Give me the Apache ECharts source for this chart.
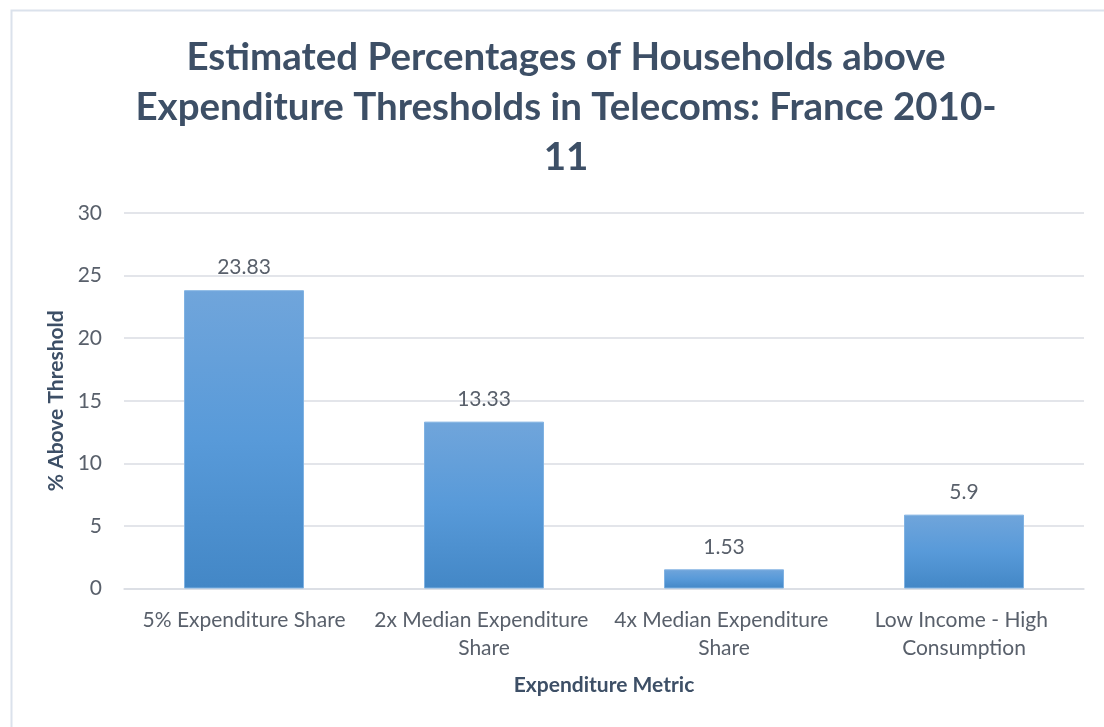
<!DOCTYPE html>
<html>
<head>
<meta charset="utf-8">
<script src="https://cdn.jsdelivr.net/npm/echarts@6/dist/echarts.min.js"></script>
<style>
  html, body { margin: 0; padding: 0; background: #ffffff; }
  #chart { width: 1104px; height: 727px; }
</style>
</head>
<body>
<div id="chart"></div>
<script>
// Expenditure metrics and the share of households above each threshold (%)
const categories = [
  '5% Expenditure Share',
  '2x Median Expenditure Share',
  '4x Median Expenditure Share',
  'Low Income - High Consumption'
];
const values = [23.83, 13.33, 1.53, 5.9];
const yTicks = [0, 5, 10, 15, 20, 25, 30];

const titleText = 'Estimated Percentages of Households above\nExpenditure Thresholds in Telecoms: France 2010-\n11';
const FONT = 'Lato, "Open Sans", sans-serif';
const TEXT = '#59606b';
const DARK = '#3d4f66';

const chart = echarts.init(document.getElementById('chart'), null, { renderer: 'canvas' });

chart.setOption({
  backgroundColor: '#ffffff',
  animation: false,
  textStyle: { fontFamily: FONT },
  graphic: [{
    type: 'rect',
    shape: { x: 11.5, y: 10.5, width: 1200, height: 800 },
    style: { fill: 'none', stroke: '#dbe2ec', lineWidth: 2 },
    silent: true,
    z: -1
  }],
  title: {
    text: titleText,
    left: 561,
    textAlign: 'center',
    top: 28,
    textStyle: {
      fontFamily: FONT,
      fontSize: 38.5,
      fontWeight: 'bold',
      color: DARK,
      lineHeight: 50
    }
  },
  grid: { left: 124, right: 20, top: 213, bottom: 138.5 },
  xAxis: {
    type: 'category',
    data: categories,
    name: 'Expenditure Metric',
    nameLocation: 'middle',
    nameGap: 86,
    nameTextStyle: { fontFamily: FONT, fontSize: 21, fontWeight: 'bold', color: DARK },
    axisLine: { show: true, lineStyle: { color: '#dadde3', width: 1.5 } },
    axisTick: { show: false },
    axisLabel: {
      interval: 0,
      fontFamily: FONT,
      fontSize: 21,
      color: TEXT,
      lineHeight: 28,
      margin: 18,
      width: 232,
      overflow: 'break'
    }
  },
  yAxis: {
    type: 'value',
    min: yTicks[0],
    max: yTicks[yTicks.length - 1],
    interval: yTicks[1] - yTicks[0],
    name: '% Above Threshold',
    nameLocation: 'middle',
    nameRotate: 90,
    nameGap: 55,
    nameTextStyle: { fontFamily: FONT, fontSize: 21, fontWeight: 'bold', color: DARK },
    axisLine: { show: false },
    axisTick: { show: false },
    axisLabel: { fontFamily: FONT, fontSize: 21, color: TEXT, margin: 22 },
    splitLine: { lineStyle: { color: '#dadde3', width: 1.5 } }
  },
  series: [{
    type: 'bar',
    data: values,
    barWidth: '50%',
    itemStyle: {
      color: new echarts.graphic.LinearGradient(0, 0, 0, 1, [
        { offset: 0, color: '#70a5db' },
        { offset: 0.5, color: '#589ad9' },
        { offset: 1, color: '#4387c6' }
      ]),
      borderColor: '#80b2e2',
      borderWidth: 1
    },
    label: {
      show: true,
      position: 'top',
      distance: 12,
      fontFamily: FONT,
      fontSize: 21,
      color: TEXT
    }
  }]
});
</script>
</body>
</html>
